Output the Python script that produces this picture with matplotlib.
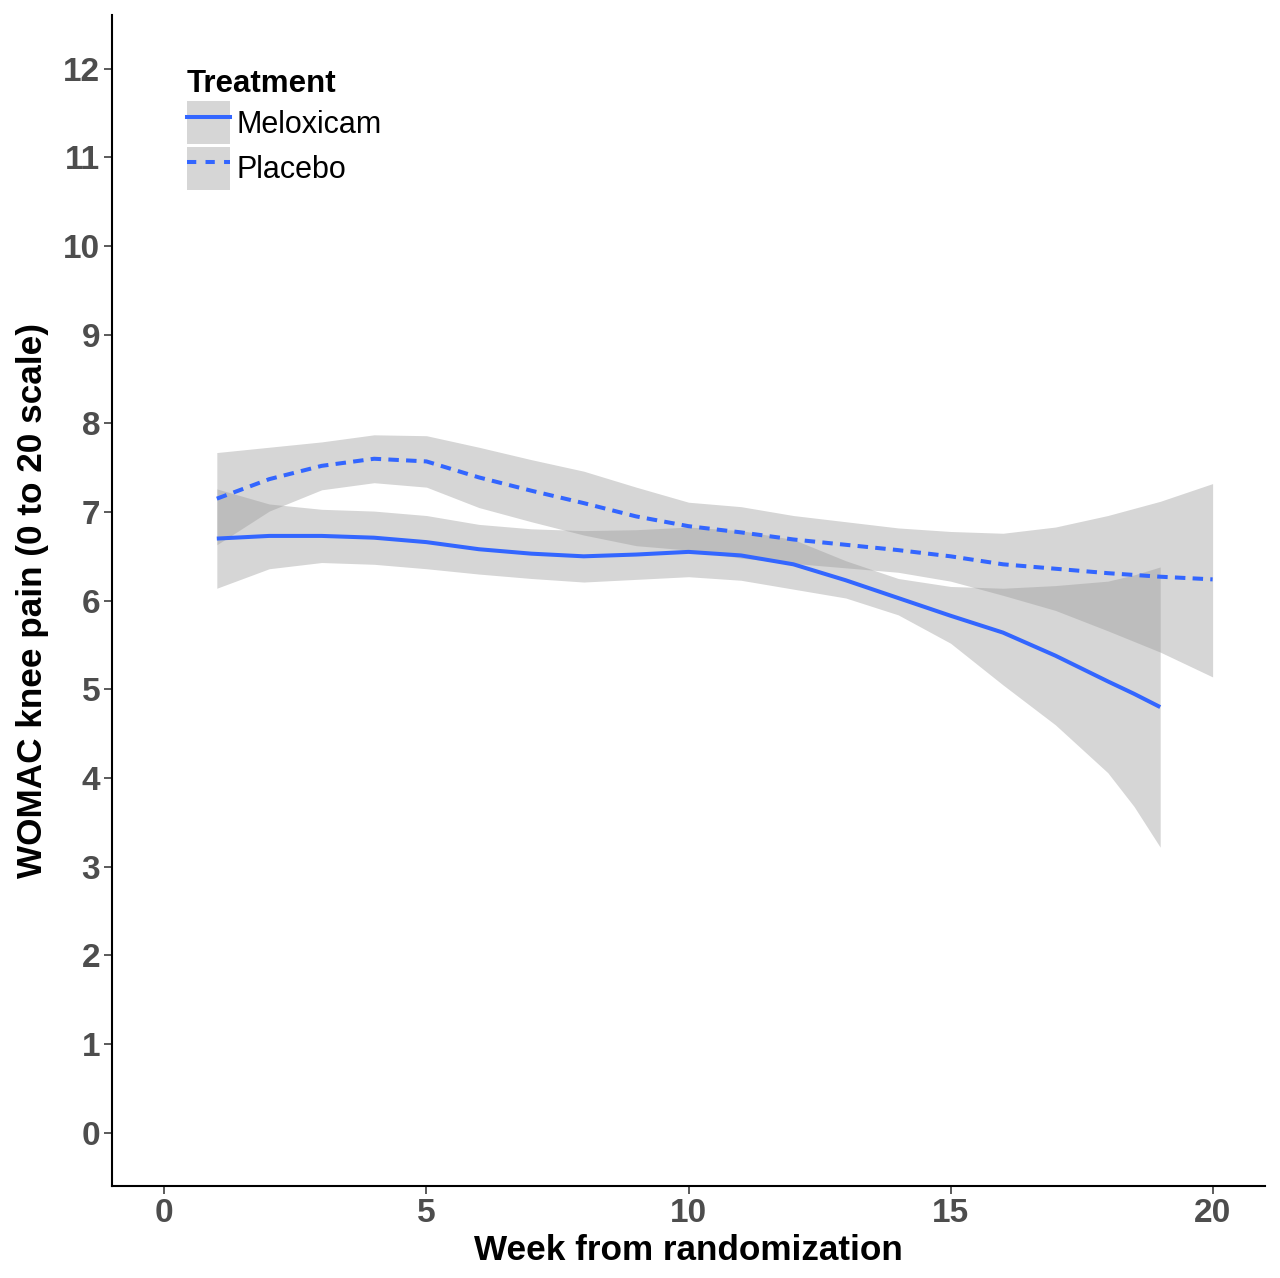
import matplotlib
matplotlib.use("Agg")
import matplotlib.pyplot as plt
from matplotlib.patches import Patch
from matplotlib.lines import Line2D
import numpy as np

plt.rcParams['font.family'] = ['Liberation Sans', 'DejaVu Sans']

# smoothed curves (week, fitted value, lower/upper CI)
melox_week = [1, 2, 3, 4, 5, 6, 7, 8, 9, 10, 11, 12, 13, 14, 15, 16, 17, 18, 18.5, 19]
melox_fit = [6.70, 6.73, 6.73, 6.71, 6.66, 6.58, 6.53, 6.50, 6.52, 6.55,
             6.51, 6.41, 6.23, 6.03, 5.83, 5.64, 5.38, 5.09, 4.95, 4.80]
melox_low = [6.14, 6.36, 6.43, 6.41, 6.36, 6.30, 6.25, 6.21, 6.24, 6.27,
             6.23, 6.13, 6.03, 5.84, 5.52, 5.05, 4.60, 4.06, 3.68, 3.22]
melox_high = [7.26, 7.09, 7.03, 7.01, 6.96, 6.86, 6.81, 6.79, 6.80, 6.83,
              6.79, 6.69, 6.45, 6.25, 6.16, 6.14, 6.17, 6.22, 6.29, 6.38]

plac_week = [1, 2, 3, 4, 5, 6, 7, 8, 9, 10, 11, 12, 13, 14, 15, 16, 17, 18, 19, 20]
plac_fit = [7.15, 7.37, 7.52, 7.60, 7.57, 7.39, 7.24, 7.10, 6.95, 6.84,
            6.77, 6.69, 6.63, 6.57, 6.50, 6.41, 6.36, 6.31, 6.27, 6.24]
plac_low = [6.63, 7.01, 7.25, 7.33, 7.28, 7.05, 6.89, 6.74, 6.62, 6.57,
            6.48, 6.42, 6.37, 6.32, 6.22, 6.06, 5.89, 5.66, 5.42, 5.14]
plac_high = [7.67, 7.73, 7.79, 7.87, 7.86, 7.73, 7.59, 7.46, 7.28, 7.11,
             7.06, 6.96, 6.89, 6.82, 6.78, 6.76, 6.83, 6.96, 7.12, 7.32]

x_ticks = [0, 5, 10, 15, 20]
y_ticks = list(range(0, 13))

blue = '#3366FF'
band = '#999999'
tick_grey = '#4D4D4D'

fig = plt.figure(figsize=(12.8, 12.78), dpi=100)
ax = fig.add_axes([0.0875, 0.072, 0.9008, 0.916])

ax.fill_between(melox_week, melox_low, melox_high, color=band, alpha=0.4, lw=0)
ax.fill_between(plac_week, plac_low, plac_high, color=band, alpha=0.4, lw=0)
ax.plot(melox_week, melox_fit, color=blue, lw=2.9, solid_capstyle='butt')
ax.plot(plac_week, plac_fit, color=blue, lw=2.9, dashes=(2.6, 1.8))

ax.set_xlim(-1, 21)
ax.set_ylim(-0.6, 12.6)
ax.set_xticks(x_ticks)
ax.set_yticks(y_ticks)

for s in ['top', 'right']:
    ax.spines[s].set_visible(False)
for s in ['left', 'bottom']:
    ax.spines[s].set_linewidth(1.5)
    ax.spines[s].set_color('black')

ax.tick_params(axis='both', length=6, width=1.3, color=tick_grey,
               labelcolor=tick_grey, labelsize=24, pad=2.5)
for lab in ax.get_xticklabels() + ax.get_yticklabels():
    lab.set_fontweight('bold')

ax.set_xlabel('Week from randomization', fontsize=25.3, fontweight='bold', labelpad=4)
ax.set_ylabel('WOMAC knee pain (0 to 20 scale)', fontsize=25.3, fontweight='bold', labelpad=10)

# legend: grey key box with the line drawn on top
key = Patch(facecolor=band, alpha=0.4, edgecolor='none')
h_melox = (key, Line2D([], [], color=blue, lw=2.9))
h_plac = (key, Line2D([], [], color=blue, lw=2.9, dashes=(2.3, 2.3)))
leg = ax.legend([h_melox, h_plac], ['Meloxicam', 'Placebo'],
                loc='upper left', bbox_to_anchor=(0.146, 0.946),
                bbox_transform=fig.transFigure, frameon=False,
                title='Treatment', fontsize=22, title_fontsize=22.5,
                handlelength=1.41, handleheight=1.8, handletextpad=0.22,
                labelspacing=0.07, borderpad=0, borderaxespad=0,
                alignment='left')
leg.get_title().set_fontweight('bold')

fig.savefig('out.png', dpi=100)
